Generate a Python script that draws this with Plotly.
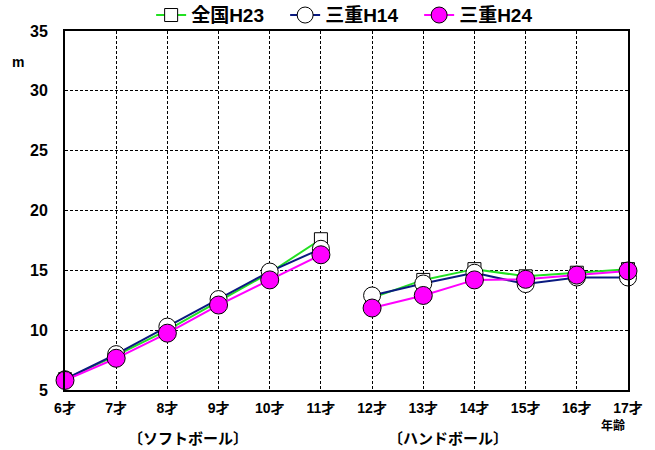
import plotly.graph_objects as go

ages = [6, 7, 8, 9, 10, 11, 12, 13, 14, 15, 16, 17]
age_labels = [f"{a}才" for a in ages]

zenkoku_h23 = [5.9, 7.9, 10.0, 12.4, 14.8, 17.6, 12.7, 14.2, 15.1, 14.5, 14.8, 15.1]
mie_h14 = [5.9, 8.0, 10.3, 12.6, 14.9, 16.8, 12.9, 13.9, 14.8, 13.85, 14.4, 14.4]
mie_h24 = [5.8, 7.65, 9.75, 12.1, 14.2, 16.3, 11.85, 12.9, 14.2, 14.25, 14.6, 14.95]

yticks = [5, 10, 15, 20, 25, 30, 35]

font_jp = "Liberation Sans, Noto Sans CJK JP"


def split(vals):
    # break the line between the softball (6-11) and handball (12-17) ages
    xs = ages[:6] + [None] + ages[6:]
    ys = vals[:6] + [None] + vals[6:]
    return xs, ys


fig = go.Figure()

series = [
    ("全国H23", zenkoku_h23, "#22e022", dict(symbol="square", size=13, color="white", line=dict(color="black", width=1))),
    ("三重H14", mie_h14, "#0a1a80", dict(symbol="circle", size=17, color="white", line=dict(color="black", width=1))),
    ("三重H24", mie_h24, "#ff00ff", dict(symbol="circle", size=18, color="#ff00ff", line=dict(color="black", width=1))),
]

for name, vals, lc, mk in series:
    xs, ys = split(vals)
    fig.add_trace(go.Scatter(
        x=xs, y=ys, name=name,
        mode="lines+markers",
        line=dict(color=lc, width=2),
        marker=mk,
        connectgaps=False,
        cliponaxis=False,
    ))

fig.update_layout(
    width=655, height=450,
    margin=dict(l=65, r=27, t=31, b=60, autoexpand=False),
    paper_bgcolor="white", plot_bgcolor="white",
    font=dict(family=font_jp, color="black", size=14),
    showlegend=True,
    legend=dict(
        orientation="h", x=0.153, xanchor="left",
        yref="paper", y=1.097, yanchor="top",
        font=dict(size=19, family=font_jp, weight="bold"), itemwidth=30,
        entrywidth=89, bgcolor="rgba(0,0,0,0)", tracegroupgap=0,
    ),
    xaxis=dict(
        range=[6, 17], tickmode="array", tickvals=ages, ticktext=age_labels,
        showgrid=True, gridcolor="black", griddash="3px,2px", gridwidth=1,
        showline=True, linecolor="black", linewidth=2, mirror=True,
        ticks="", zeroline=False, automargin=False,
        tickfont=dict(size=14, weight="bold"), ticklabelstandoff=4,
    ),
    yaxis=dict(
        range=[5, 35], tickmode="array", tickvals=yticks,
        showgrid=True, gridcolor="black", griddash="3px,2px", gridwidth=1,
        showline=True, linecolor="black", linewidth=2, mirror=True,
        ticks="", zeroline=False, automargin=False,
        tickfont=dict(size=16, weight="bold"), ticklabelstandoff=12,
    ),
)

fig.add_annotation(x=-0.083, y=0.914, xref="paper", yref="paper", text="m",
                   showarrow=False, font=dict(size=14, weight="bold"), xanchor="center", yanchor="middle")
fig.add_annotation(x=16.71, y=-0.0975, xref="x", yref="paper", text="年齢",
                   showarrow=False, font=dict(size=12, weight="bold"), xanchor="center", yanchor="middle")
fig.add_annotation(x=8.4, y=-0.134, xref="x", yref="paper", text="〔ソフトボール〕",
                   showarrow=False, font=dict(size=15, weight="bold"), xanchor="center", yanchor="middle")
fig.add_annotation(x=13.48, y=-0.134, xref="x", yref="paper", text="〔ハンドボール〕",
                   showarrow=False, font=dict(size=15, weight="bold"), xanchor="center", yanchor="middle")

fig.write_html("out.html", config={"displayModeBar": False},
               post_script="document.body.style.margin='0';")
